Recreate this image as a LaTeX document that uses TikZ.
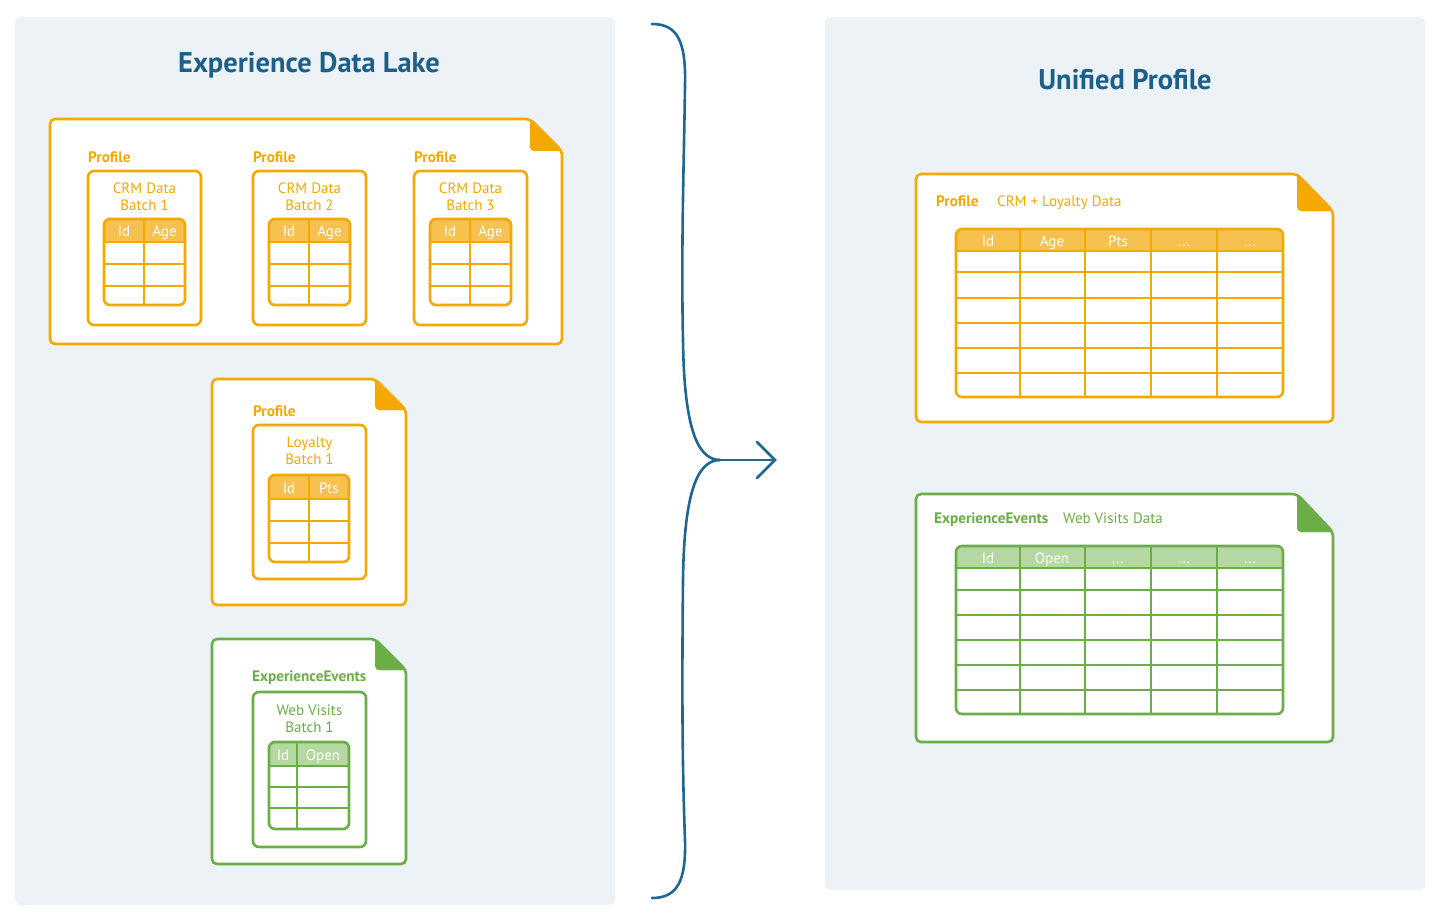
\documentclass[tikz,border=0pt]{standalone}
\usepackage{fontspec}
\setmainfont{PT Sans}
\definecolor{panelbg}{HTML}{EDF2F7}
\definecolor{org}{HTML}{F5A800}
\definecolor{orghead}{HTML}{F7C150}
\definecolor{grn}{HTML}{6BAD47}
\definecolor{grnhead}{HTML}{B5D7A1}
\definecolor{ttl}{HTML}{1C6089}
\definecolor{brc}{HTML}{1F6690}
\tikzset{
  panel/.style={fill=panelbg, rounded corners=6pt},
  docline/.style={line width=2.6pt, rounded corners=5pt, fill=white},
  cardline/.style={line width=2.6pt, rounded corners=6pt, fill=white},
  gridline/.style={line width=2.6pt},
  title/.style={font=\fontsize{28.5}{32}\selectfont\bfseries, text=ttl, yshift=-2pt},
  kind/.style={font=\fontsize{15.2}{17}\selectfont\bfseries, anchor=mid west, inner sep=0pt, yshift=-2pt},
  sub/.style={font=\fontsize{15}{17}\selectfont, inner sep=0pt, text height=10.5pt, text depth=3pt, yshift=-2pt},
  head/.style={font=\fontsize{15}{17}\selectfont, text=white, inner sep=0pt, text height=10.5pt, text depth=3pt, yshift=-2pt},
}
% doc: #1 l, #2 t, #3 r, #4 b, #5 fold x, #6 fold y, #7 colour
\newcommand\mydoc[7]{%
  \draw[docline, draw=#7] (#1,#2) -- (#5,#2) -- (#3,#6) -- (#3,#4) -- (#1,#4) -- cycle;
  \fill[#7, rounded corners=4pt] (#5,#2) -- (#5,#6) -- (#3,#6) -- cycle;
  \fill[#7] (#5,#2) -- (#3,#6) -- (#5+4,#6) -- cycle;
}
% table: #1 l, #2 t, #3 r, #4 b, #5 header bottom, #6 colour, #7 head fill, #8 row lines, #9 col lines
\newcommand\mytable[9]{%
  \begin{scope}
    \clip[rounded corners=6pt] (#1,#2) rectangle (#3,#4);
    \fill[#7] (#1,#2) rectangle (#3,#5);
    \fill[white] (#1,#5) rectangle (#3,#4);
  \end{scope}
  \foreach \yy in {#5,#8} \draw[gridline, draw=#6] (#1,\yy) -- (#3,\yy);
  \foreach \xx in {#9} \draw[gridline, draw=#6] (\xx,#2) -- (\xx,#4);
  \draw[gridline, draw=#6, rounded corners=6pt] (#1,#2) rectangle (#3,#4);
}
\begin{document}
\begin{tikzpicture}[x=1pt, y=-1pt]
\useasboundingbox[fill=white] (0,0) rectangle (1448,923);
% panels
\fill[panel] (15,17) rectangle (615,905);
\fill[panel] (825,17) rectangle (1425,890);
\node[title] (t1) at (309,63) {Experience Data Lake};
\node[title] (t2) at (1125,78) {Unified Profile};

% ---------- doc 1 : three CRM batches
\mydoc{50}{119}{562}{344}{530}{151}{org}
\foreach \l/\r/\s/\n in {88/201/144/1, 253/366/309/2, 414/527/470/3}{
  \draw[cardline, draw=org] (\l,171) rectangle (\r,325);
  \node[kind, text=org] (p\n) at (\l,158) {Profile};
  \node[sub, text=org] (c\n a) at ({(\l+\r)/2},188) {CRM Data};
  \node[sub, text=org] (c\n b) at ({(\l+\r)/2},205) {Batch \n};
  \mytable{\l+16}{219}{\r-16}{305}{242}{org}{orghead}{264,286}{\s}
  \node[head] (h\n a) at ({(\l+16+\s)/2},231) {Id};
  \node[head] (h\n b) at ({(\r-16+\s)/2},231) {Age};
}

% ---------- doc 2 : loyalty
\mydoc{212}{379}{406}{605}{375}{410}{org}
\draw[cardline, draw=org] (253,425) rectangle (366,579);
\node[kind, text=org] (p4) at (253,412) {Profile};
\node[sub, text=org] (l1) at (309.5,442) {Loyalty};
\node[sub, text=org] (l2) at (309.5,459) {Batch 1};
\mytable{269}{475}{349}{562}{499}{org}{orghead}{521,543}{309}
\node[head] (lh1) at (289,488) {Id};
\node[head] (lh2) at (329,488) {Pts};

% ---------- doc 3 : web visits
\mydoc{212}{639}{406}{864}{375}{670}{grn}
\draw[cardline, draw=grn] (253,692) rectangle (366,847);
\node[kind, text=grn] (e1) at (252,677) {ExperienceEvents};
\node[sub, text=grn] (w1) at (309.5,710) {Web Visits};
\node[sub, text=grn] (w2) at (309.5,727) {Batch 1};
\mytable{269}{742}{349}{829}{766}{grn}{grnhead}{787,808}{297}
\node[head] (wh1) at (283,755) {Id};
\node[head] (wh2) at (323,755) {Open};

% ---------- doc 4 : unified profile
\mydoc{916}{174}{1333}{422}{1297}{211}{org}
\node[kind, text=org] (p5) at (936,202) {Profile};
\node[sub, text=org, anchor=west] (u1) at (997,201) {CRM + Loyalty Data};
\mytable{956}{229}{1283}{397}{251}{org}{orghead}{272,298,323,348,373}{1020,1085,1151,1217}
\node[head] (uh1) at (988,241) {Id};
\node[head] (uh2) at (1052,241) {Age};
\node[head] (uh3) at (1118,241) {Pts};
\node[head] (uh4) at (1184,241) {...};
\node[head] (uh5) at (1250,241) {...};

% ---------- doc 5 : unified events
\mydoc{916}{494}{1333}{742}{1297}{532}{grn}
\node[kind, text=grn] (e2) at (934,519) {ExperienceEvents};
\node[sub, text=grn, anchor=west] (u2) at (1063,518) {Web Visits Data};
\mytable{956}{546}{1283}{714}{568}{grn}{grnhead}{590,615,640,665,690}{1020,1085,1151,1217}
\node[head] (vh1) at (988,558) {Id};
\node[head] (vh2) at (1052,558) {Open};
\node[head] (vh3) at (1118,558) {...};
\node[head] (vh4) at (1184,558) {...};
\node[head] (vh5) at (1250,558) {...};

% ---------- brace and arrow
\coordinate (btop) at (652,24);
\coordinate (bbot) at (652,898);
\coordinate (cusp) at (720,460);
\coordinate (tip) at (775,460);
\draw[brc, line width=2.6pt, line cap=round]
  (btop) .. controls (678,24) and (686,42) .. (685,85)
  .. controls (684,160) and (681,250) .. (683,340)
  .. controls (684,420) and (695,460) .. (cusp);
\draw[brc, line width=2.6pt, line cap=round]
  (cusp) .. controls (695,460) and (684,500) .. (683,580)
  .. controls (682,680) and (682,760) .. (685,840)
  .. controls (686,880) and (678,898) .. (bbot);
\draw[brc, line width=2.6pt, line cap=round] (cusp) -- (tip);
\draw[brc, line width=2.6pt, line cap=round, line join=miter] (tip) ++(-18,-18) -- (tip) -- ++(-18,18);
\end{tikzpicture}
\end{document}
